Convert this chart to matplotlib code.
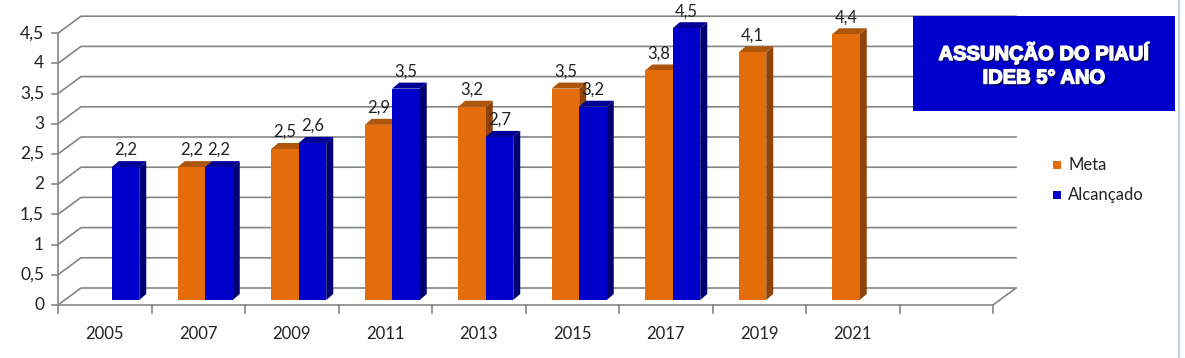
import matplotlib.pyplot as plt
from matplotlib.patches import Polygon, Rectangle
import matplotlib.patheffects as pe

# dados
anos = ['2005', '2007', '2009', '2011', '2013', '2015', '2017', '2019', '2021', '']
meta = [None, 2.2, 2.5, 2.9, 3.2, 3.5, 3.8, 4.1, 4.4, None]
alcancado = [2.2, 2.2, 2.6, 3.5, 2.7, 3.2, 4.5, None, None, None]
yticks = [0, 0.5, 1, 1.5, 2, 2.5, 3, 3.5, 4, 4.5]
titulo = ['ASSUNÇÃO DO PIAUÍ', 'IDEB 5° ANO']

plt.rcParams['font.family'] = ['Lato', 'DejaVu Sans']

W, H = 1185, 358
fig = plt.figure(figsize=(W / 100, H / 100), dpi=100)
ax = fig.add_axes([0, 0, 1, 1])
ax.axis('off')

# escala: x=-0.5 em px 58, 93.5 px por categoria; y=0 em px 305, 60.4 px por unidade
px_x, px_y = 93.5, 60.4
x0 = -0.5 - 58 / px_x
ax.set_xlim(x0, x0 + W / px_x)
ax.set_ylim(-(H - 305) / px_y, 305 / px_y)

n = len(anos)
grid_c = '#858585'
dxw, dyw = 23 / px_x, 17 / px_y      # profundidade da parede
bdx, bdy = 7 / px_x, 5 / px_y        # deslocamento das barras
ddx, ddy = 7 / px_x, 6 / px_y        # profundidade das barras
w = 27.5 / px_x

# grades (parede do fundo)
for v in yticks:
    ax.plot([-0.5, -0.5 + dxw, n - 0.5 + dxw], [v, v + dyw, v + dyw],
            color=grid_c, lw=1.2, zorder=1)
    ax.plot([-0.5 - 6 / px_x, -0.5], [v, v], color=grid_c, lw=1.2, zorder=1)
    ax.text(-0.5 - 14 / px_x, v, str(v).replace('.', ',').replace(',0', ''),
            ha='right', va='center', fontsize=12.5, color='#222222')

# eixo vertical e piso
ax.plot([-0.5, -0.5], [0, 4.5], color=grid_c, lw=1.2, zorder=1)
ax.plot([-0.5, n - 0.5, n - 0.5 + dxw], [0, 0, dyw], color=grid_c, lw=1.2, zorder=1)
for k in range(n + 1):
    ax.plot([k - 0.5, k - 0.5], [0, -8 / px_y], color=grid_c, lw=1.2, zorder=1)
for i, a in enumerate(anos):
    ax.text(i, -29 / px_y, a, ha='center', va='center', fontsize=12, color='#222222')

cores = {
    'Meta': ('#e46c0a', '#ad550a', '#8f4308'),
    'Alcançado': ('#0000cc', '#000096', '#000075'),
}


def barra3d(x, v, cor, z):
    frente, topo, lado = cor
    b = ax.bar(x, v, width=w, bottom=bdy, color=frente, zorder=z + 0.002, linewidth=0)
    xl, xr = x - w / 2, x + w / 2
    yb, yt = bdy, bdy + v
    ax.add_patch(Polygon([(xr, yb), (xr + ddx, yb + ddy), (xr + ddx, yt + ddy), (xr, yt)],
                         closed=True, facecolor=lado, edgecolor='none', zorder=z))
    ax.add_patch(Polygon([(xl, yt), (xl + ddx, yt + ddy), (xr + ddx, yt + ddy), (xr, yt)],
                         closed=True, facecolor=topo, edgecolor='none', zorder=z + 0.001))
    ax.text(x, yt + ddy + 3 / px_y, str(v).replace('.', ','), ha='center', va='bottom',
            fontsize=12, color='#222222', zorder=20)
    return b


z = 3
for i in range(n):
    xc = i + bdx
    if meta[i] is not None:
        barra3d(xc - w / 2, meta[i], cores['Meta'], z)
    z += 0.01
    if alcancado[i] is not None:
        barra3d(xc + w / 2, alcancado[i], cores['Alcançado'], z)
    z += 0.01

# caixa do título
fig.patches.append(Rectangle((913 / W, 1 - 111 / H), 262 / W, 95 / H,
                             transform=fig.transFigure, facecolor='#0000cc',
                             edgecolor='none', zorder=5))
sombra = [pe.withSimplePatchShadow(offset=(1.3, -1.3), shadow_rgbFace='#000022', alpha=0.8),
          pe.withStroke(linewidth=1.0, foreground='white')]
for j, t in enumerate(titulo):
    fig.text(1044 / W, 1 - (53 + 25 * j) / H, t, ha='center', va='center', color='white',
             fontsize=14.5, fontweight='bold', family=['Liberation Sans', 'DejaVu Sans'],
             path_effects=sombra, zorder=6)

# legenda
for j, (nome, cor) in enumerate(cores.items()):
    yc = 165 + 30 * j
    fig.patches.append(Rectangle((1053 / W, 1 - (yc + 3.5) / H), 7.5 / W, 7.5 / H,
                                 transform=fig.transFigure, facecolor=cor[0],
                                 edgecolor='none'))
    fig.text(1068 / W, 1 - yc / H, nome, ha='left', va='center', fontsize=12,
             color='#222222')

# borda direita
fig.add_artist(plt.Line2D([1179 / W, 1179 / W], [0, 1], transform=fig.transFigure,
                          color='#b0c8d8', lw=1.2))

fig.savefig('out.png', dpi=100)
